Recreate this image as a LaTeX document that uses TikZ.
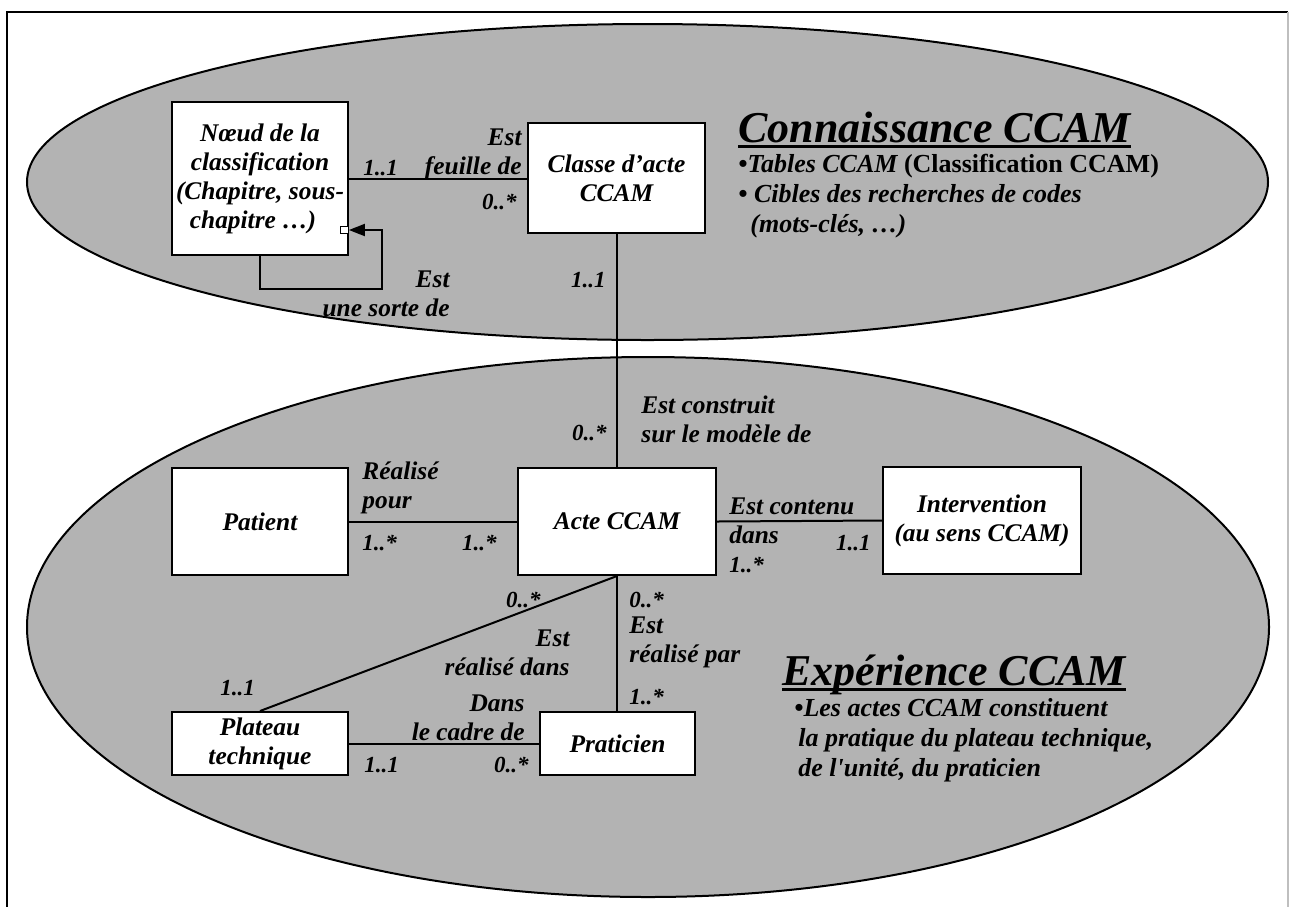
\documentclass[tikz,border=0pt]{standalone}
\usepackage{fontspec}
\setmainfont{Liberation Serif}
\usetikzlibrary{arrows.meta}
\definecolor{zonegray}{RGB}{179,179,179}
\begin{document}
\begin{tikzpicture}[x=0.5pt,y=-0.5pt,
  entity/.style={draw,line width=1pt,fill=white,inner sep=0pt,align=center,
    font=\fontsize{12.7}{14.5}\selectfont\bfseries\itshape},
  link/.style={line width=1pt},
  lbl/.style={inner sep=0pt,font=\fontsize{12.7}{14.5}\selectfont\bfseries\itshape},
  mult/.style={inner sep=0pt,font=\fontsize{11.5}{13}\selectfont\bfseries\itshape},
  zone/.style={draw,line width=1pt,fill=zonegray},
  heading/.style={inner sep=0pt,font=\fontsize{22}{26}\selectfont\bfseries\itshape},
  notes/.style={inner sep=0pt,align=left,font=\fontsize{13}{15}\selectfont\bfseries\itshape}]
\useasboundingbox (0,0) rectangle (1289,906);

% page frame
\draw[line width=0.6pt] (7,912) -- (7,12) -- (1288,12);
\draw[line width=0.6pt,black!25] (1288,12) -- (1288,912);

% the two domains
\draw[zone] (647.5,182) ellipse [x radius=620.5, y radius=158];
\draw[zone] (648,627) ellipse [x radius=621, y radius=270];

% classes
\node[entity,minimum width=88pt,minimum height=76.5pt] (noeud) at (260,178.5)
  {Nœud de la\\classification\\(Chapitre, sous-\\chapitre …)\hspace*{7pt}};
\node[entity,minimum width=88.5pt,minimum height=55pt] (classe) at (616.5,178)
  {Classe d’acte\\CCAM};
\node[entity,minimum width=88pt,minimum height=53.5pt] (patient) at (260,521.5) {Patient};
\node[entity,minimum width=99pt,minimum height=53.5pt] (acte) at (617,521.5) {Acte CCAM};
\node[entity,minimum width=99pt,minimum height=53.5pt] (interv) at (982,520.5)
  {Intervention\\(au sens CCAM)};
\node[entity,minimum width=88pt,minimum height=31.5pt] (plateau) at (260,743.5)
  {Plateau\\technique};
\node[entity,minimum width=77.5pt,minimum height=31.5pt] (prat) at (617.5,743.5) {Praticien};

% small square marking the end of the self association
\node[draw,fill=white,line width=0.6pt,inner sep=0pt,minimum size=3.8pt] (agg) at (344.5,230) {};

% associations
\draw[link] (noeud.east) -- (noeud.east -| classe.west);
\draw[link,-{Triangle[length=8pt,width=6pt]}] (noeud.south) |- (382,289) -- (382,230) -- (agg.east);
\draw[link] (classe.south) -- (classe.south |- acte.north);
\draw[link] (patient.east) -- (acte.west);
\draw[link] (acte.east) -- (interv.west);
\draw[link] (acte.south) -- (acte.south |- prat.north);
\draw[link] (acte.south) -- (plateau.north);
\draw[link] (plateau.east) -- (prat.west);

% association names
\node[lbl,align=right,anchor=east] (l1) at (522,154) {Est\\feuille de};
\node[lbl,align=right,anchor=east] (l2) at (450,294) {Est\\une sorte de};
\node[lbl,align=left,anchor=west] (l3) at (641,419) {Est construit\\sur le modèle de};
\node[lbl,align=left,anchor=west] (l4) at (362,487.5) {Réalisé\\pour};
\node[lbl,align=left,anchor=west] (l5) at (729,521) {Est contenu\\dans};
\node[lbl,align=left,anchor=west] (l6) at (629,642) {Est\\réalisé par};
\node[lbl,align=right,anchor=east] (l7) at (570,652.5) {Est\\réalisé dans};
\node[lbl,align=right,anchor=east] (l8) at (525,717.5) {Dans\\le cadre de};

% multiplicities
\node[mult,anchor=west] (m1) at (363,168) {1..1};
\node[mult,anchor=east] (m2) at (517,202) {0..*};
\node[mult,anchor=east] (m3) at (606,280) {1..1};
\node[mult,anchor=east] (m4) at (607,433) {0..*};
\node[mult,anchor=west] (m5) at (362,543) {1..*};
\node[mult,anchor=east] (m6) at (497,543) {1..*};
\node[mult,anchor=west] (m7) at (729,565) {1..*};
\node[mult,anchor=east] (m8) at (871,543) {1..1};
\node[mult,anchor=east] (m9) at (541,600) {0..*};
\node[mult,anchor=west] (m10) at (629,600) {0..*};
\node[mult,anchor=west] (m11) at (629,697) {1..*};
\node[mult,anchor=west] (m12) at (220,688) {1..1};
\node[mult,anchor=west] (m13) at (364,765) {1..1};
\node[mult,anchor=east] (m14) at (529,765) {0..*};

% domain headings and notes
\node[heading,anchor=base west] (ctitle) at (738,142) {Connaissance CCAM};
\draw[line width=1.5pt] ([yshift=-2pt]ctitle.base west) -- ([yshift=-2pt]ctitle.base east);
\node[notes,anchor=west] (cnotes) at (738,196)
  {•Tables CCAM {\upshape(Classification CCAM)}\\• Cibles des recherches de codes\\\hspace*{6pt}(mots-clés, …)};

\node[heading,anchor=base west] (etitle) at (782,685) {Expérience CCAM};
\draw[line width=1.5pt] ([yshift=-2pt]etitle.base west) -- ([yshift=-2pt]etitle.base east);
\node[notes,anchor=west] (enotes) at (794,740)
  {•Les actes CCAM constituent\\\hspace*{2pt}la pratique du plateau technique,\\\hspace*{2pt}de l\textquotesingle unité, du praticien};
\end{tikzpicture}
\end{document}
